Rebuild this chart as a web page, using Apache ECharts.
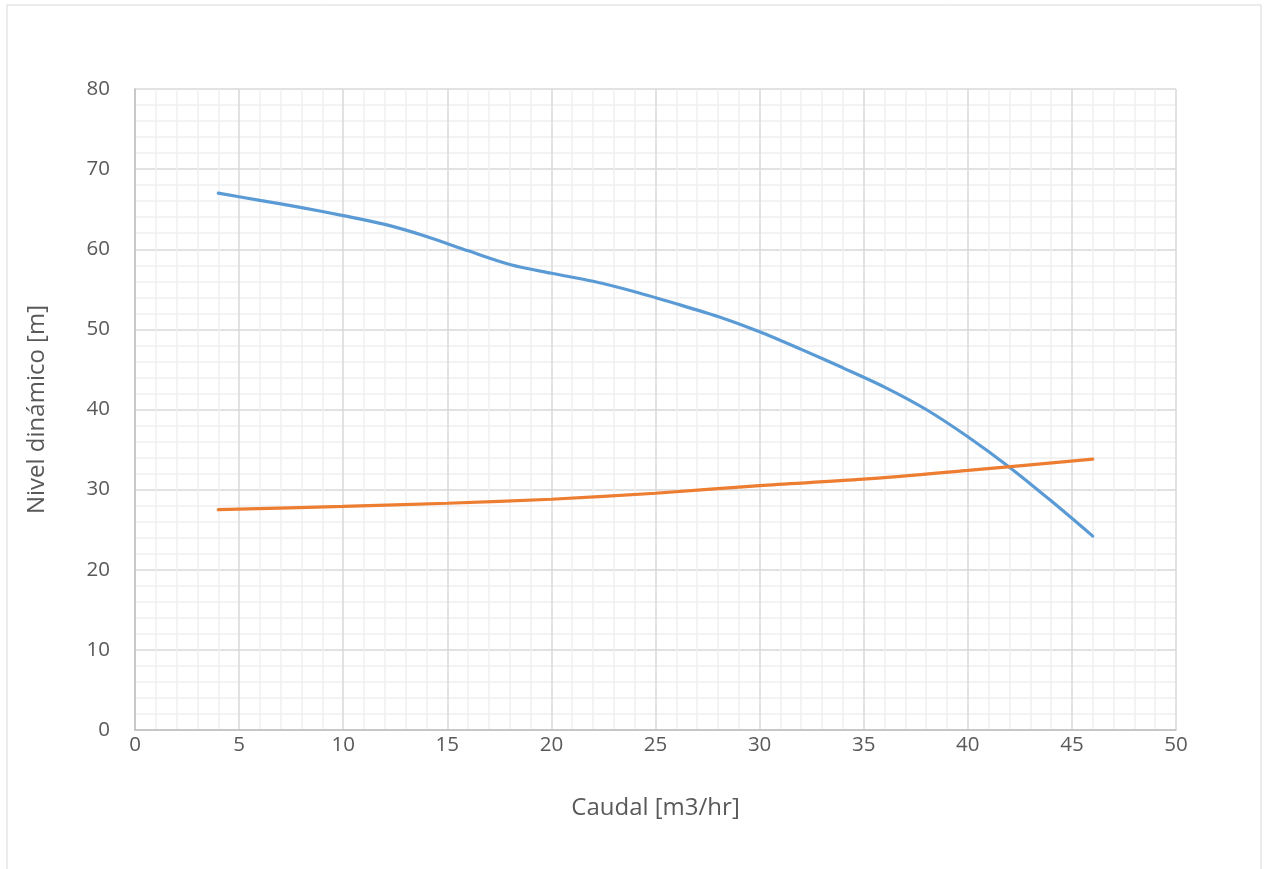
<!DOCTYPE html>
<html>
<head>
<meta charset="utf-8">
<title>Curva de bomba</title>
<script src="https://cdn.jsdelivr.net/npm/echarts@6/dist/echarts.min.js"></script>
<style>
  html, body { margin: 0; padding: 0; background: #ffffff; }
  #chart { width: 1266px; height: 869px; }
</style>
</head>
<body>
<div id="chart"></div>
<script>
// Pump curve (blue): caudal [m3/hr] vs nivel dinámico [m]
const pumpFlow  = [4, 6, 8, 10, 12, 14, 16, 18, 20, 22, 24, 26, 28, 30, 32, 34, 36, 38, 40, 42, 44, 46];
const pumpHead  = [67.0, 66.1, 65.2, 64.2, 63.1, 61.6, 59.8, 58.1, 57.0, 56.0, 54.7, 53.2, 51.6, 49.7, 47.5, 45.2, 42.8, 40.0, 36.6, 32.8, 28.6, 24.2];

// System curve (orange)
const systemFlow = [4, 10, 15, 20, 25, 30, 35, 40, 46];
const systemHead = [27.5, 27.9, 28.3, 28.8, 29.55, 30.5, 31.3, 32.4, 33.8];

// Axis settings
const xTicks = { min: 0, max: 50, step: 5 };
const yTicks = { min: 0, max: 80, step: 10 };

const textColor = '#595959';
const fontFamily = '"Open Sans", "Noto Sans", sans-serif';

const chart = echarts.init(document.getElementById('chart'), null, { renderer: 'canvas' });

function pairs(xs, ys) {
  return xs.map((x, i) => [x, ys[i]]);
}

function axisCommon() {
  return {
    type: 'value',
    axisLine: { show: true, lineStyle: { color: '#bfbfbf', width: 1.5 } },
    axisTick: { show: false },
    minorTick: { show: false, splitNumber: 5 },
    splitLine: { show: true, lineStyle: { color: '#d9d9d9', width: 1.5 } },
    minorSplitLine: { show: true, lineStyle: { color: '#f0f0f0', width: 1.5 } },
    nameTextStyle: { color: textColor, fontSize: 24, fontFamily: fontFamily },
    nameLocation: 'middle'
  };
}

const option = {
  backgroundColor: '#ffffff',
  animation: false,
  graphic: [{
    type: 'rect',
    shape: { x: 7, y: 5, width: 1254, height: 880 },
    style: { fill: 'none', stroke: '#d9d9d9', lineWidth: 1 },
    silent: true,
    z: -1
  }],
  grid: { left: 135, right: 90, top: 89, bottom: 139, containLabel: false },
  xAxis: Object.assign(axisCommon(), {
    min: xTicks.min, max: xTicks.max, interval: xTicks.step,
    name: 'Caudal [m3/hr]',
    nameGap: 66,
    axisLabel: { color: textColor, fontSize: 20.5, fontFamily: fontFamily, margin: 5 }
  }),
  yAxis: Object.assign(axisCommon(), {
    min: yTicks.min, max: yTicks.max, interval: yTicks.step,
    name: 'Nivel dinámico [m]',
    nameGap: 86,
    axisLabel: { color: textColor, fontSize: 20.5, fontFamily: fontFamily, margin: 25 }
  }),
  series: [
    {
      type: 'line',
      data: pairs(pumpFlow, pumpHead),
      smooth: 0.3,
      showSymbol: false,
      lineStyle: { color: '#5b9bd5', width: 3.2, cap: 'round' },
      z: 3
    },
    {
      type: 'line',
      data: pairs(systemFlow, systemHead),
      smooth: 0.3,
      showSymbol: false,
      lineStyle: { color: '#ed7d31', width: 3.2, cap: 'round' },
      z: 4
    }
  ]
};

chart.setOption(option);
</script>
</body>
</html>
